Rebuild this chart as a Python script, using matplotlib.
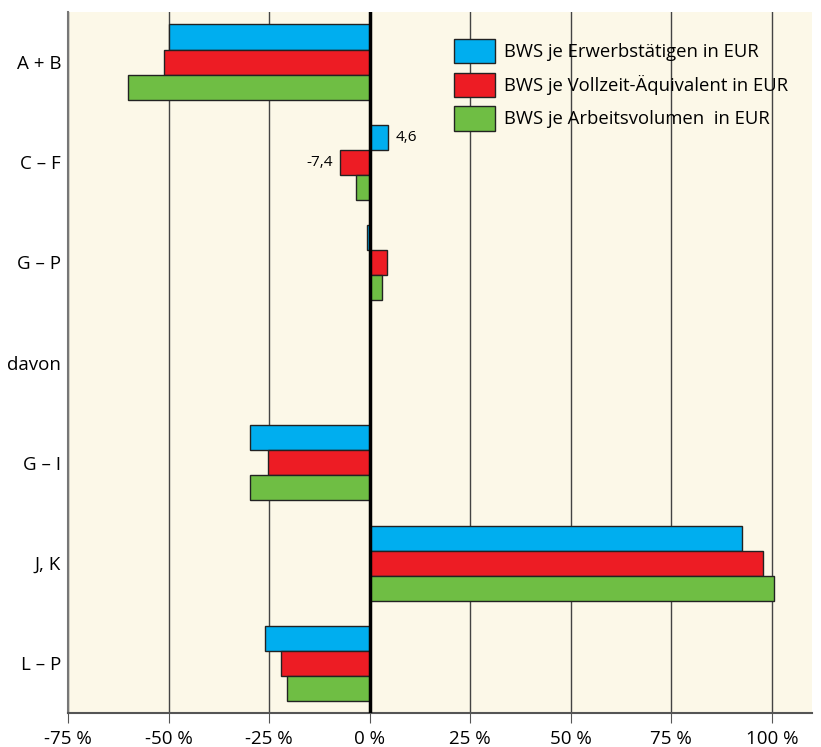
import numpy as np
import matplotlib.pyplot as plt
from matplotlib.patches import Patch

plt.rcParams['font.family'] = ['Open Sans', 'DejaVu Sans']

# Daten (Veränderung in %)
kategorien = ['A + B', 'C – F', 'G – P', 'davon', 'G – I', 'J, K', 'L – P']
erwerbstaetige = [-50.0, 4.6, -0.6, np.nan, -29.7, 92.7, -26.1]
vollzeit = [-51.2, -7.4, 4.4, np.nan, -25.3, 97.8, -22.0]
arbeitsvolumen = [-60.2, -3.5, 3.1, np.nan, -29.7, 100.6, -20.6]

serien = ['BWS je Erwerbstätigen in EUR',
          'BWS je Vollzeit-Äquivalent in EUR',
          'BWS je Arbeitsvolumen  in EUR']
farben = ['#00AEEF', '#ED1C24', '#6FBE44']
xticks = [-75, -50, -25, 0, 25, 50, 75, 100]
xlabels = ['-75 %', '-50 %', '-25 %', '0 %', '25 %', '50 %', '75 %', '100 %']

fig = plt.figure(figsize=(8.21, 7.47), dpi=100)
ax = fig.add_axes([0.083, 0.045, 0.906, 0.939])
ax.set_facecolor('#FCF8E8')

y = np.arange(len(kategorien))
h = 0.25
for i, (werte, farbe) in enumerate(zip([erwerbstaetige, vollzeit, arbeitsvolumen], farben)):
    ax.barh(y + (i - 1) * h, werte, height=h, color=farbe,
            edgecolor='#222222', linewidth=1.0, zorder=3)

# Gitter
for xt in xticks:
    if xt != 0:
        ax.axvline(xt, color='#444444', linewidth=1.0, zorder=1)
ax.axvline(0, color='black', linewidth=2.5, zorder=4)

ax.set_xlim(-75, 110)
ax.set_ylim(6.5, -0.5)
ax.set_yticks(y)
ax.set_yticklabels(kategorien, fontsize=13.5)
ax.set_xticks(xticks)
ax.set_xticklabels(xlabels, fontsize=13.5)
ax.tick_params(axis='y', length=0, pad=5)
ax.tick_params(axis='x', length=7, color='#555555', pad=5)

for s in ['top', 'right']:
    ax.spines[s].set_visible(False)
ax.spines['left'].set_color('#777777')
ax.spines['left'].set_linewidth(1.5)
ax.spines['bottom'].set_color('#555555')
ax.spines['bottom'].set_linewidth(1.5)

# Wertebeschriftungen
ax.text(erwerbstaetige[1] + 1.8, 1 - h, '4,6', fontsize=11, va='center', ha='left', zorder=5)
ax.text(vollzeit[1] - 1.8, 1, '-7,4', fontsize=11, va='center', ha='right', zorder=5)

handles = [Patch(facecolor=f, edgecolor='#222222', linewidth=1.0) for f in farben]
leg = ax.legend(handles, serien, loc='upper left', bbox_to_anchor=(0.497, 0.985),
                frameon=False, fontsize=13.3, handlelength=2.2, handleheight=1.65,
                labelspacing=0.5, handletextpad=0.5)

fig.savefig('out.png', dpi=100)
